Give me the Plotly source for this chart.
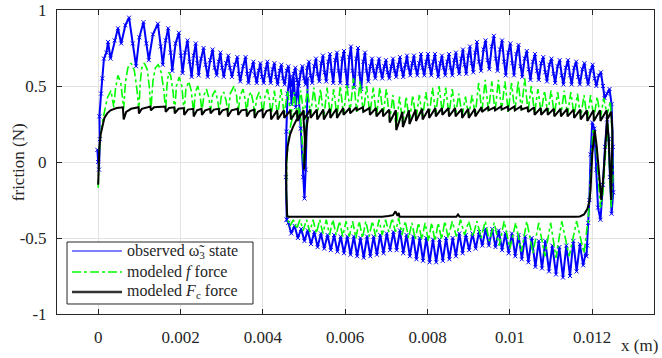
import numpy as np
import plotly.graph_objects as go

# ---------------- data (x in mm, friction in N) ----------------
x_ticks = [0, 0.002, 0.004, 0.006, 0.008, 0.01, 0.012]
x_tick_labels = ["0", "0.002", "0.004", "0.006", "0.008", "0.01", "0.012"]
y_ticks = [-1, -0.5, 0, 0.5, 1]
y_tick_labels = ["-1", "-0.5", "0", "0.5", "1"]
series_names = ["observed ω̃<sub>3</sub> state", "modeled <i>f</i> force", "modeled <i>F</i><sub>c</sub> force"]

# observed state: forward pass (upper branch)
obs_upper = [(0.00, 0.00), (-0.02, 0.08), (0.02, -0.05), (0.04, 0.15), (0.03, 0.30), (0.07, 0.45), (0.10, 0.55),
    (0.14, 0.68), (0.20, 0.72), (0.24, 0.79), (0.30, 0.68), (0.40, 0.80), (0.48, 0.88), (0.56, 0.78), (0.66, 0.90),
    (0.75, 0.95), (0.84, 0.78), (0.92, 0.63), (1.00, 0.82), (1.10, 0.92), (1.17, 0.78), (1.23, 0.67), (1.33, 0.84),
    (1.45, 0.91), (1.52, 0.76), (1.57, 0.64), (1.64, 0.80), (1.70, 0.88), (1.76, 0.72), (1.80, 0.60), (1.88, 0.78),
    (1.96, 0.85), (2.01, 0.70), (2.05, 0.585), (2.11, 0.72), (2.17, 0.80), (2.22, 0.66), (2.27, 0.56), (2.32, 0.70),
    (2.37, 0.78), (2.41, 0.65), (2.44, 0.57), (2.50, 0.68), (2.56, 0.75), (2.61, 0.64), (2.66, 0.56), (2.72, 0.67),
    (2.78, 0.74), (2.83, 0.62), (2.88, 0.57), (2.93, 0.66), (2.97, 0.72), (3.01, 0.62), (3.05, 0.56), (3.11, 0.65),
    (3.16, 0.70), (3.20, 0.62), (3.25, 0.56), (3.32, 0.64), (3.38, 0.69), (3.42, 0.58), (3.45, 0.53), (3.52, 0.63),
    (3.58, 0.69), (3.62, 0.58), (3.65, 0.52), (3.71, 0.60), (3.77, 0.66), (3.81, 0.57), (3.85, 0.52), (3.90, 0.60),
    (3.94, 0.65), (3.98, 0.56), (4.02, 0.52), (4.07, 0.61), (4.11, 0.66), (4.15, 0.57), (4.19, 0.52), (4.24, 0.61),
    (4.28, 0.65), (4.32, 0.56), (4.36, 0.51), (4.41, 0.60), (4.45, 0.64), (4.49, 0.55), (4.53, 0.51), (4.58, 0.60),
    (4.62, 0.63), (4.66, 0.55), (4.70, 0.50), (4.75, 0.58), (4.79, 0.62), (4.83, 0.54), (4.87, 0.50), (4.92, 0.59),
    (4.96, 0.63), (5.00, 0.55), (5.04, 0.51), (5.08, 0.62), (5.12, 0.66), (5.16, 0.57), (5.20, 0.52), (5.25, 0.63),
    (5.29, 0.68), (5.33, 0.58), (5.37, 0.53), (5.42, 0.65), (5.46, 0.70), (5.50, 0.59), (5.54, 0.53), (5.59, 0.66),
    (5.63, 0.71), (5.67, 0.60), (5.71, 0.52), (5.76, 0.67), (5.80, 0.72), (5.84, 0.60), (5.88, 0.52), (5.93, 0.68),
    (5.97, 0.73), (6.01, 0.60), (6.05, 0.50), (6.10, 0.69), (6.14, 0.76), (6.18, 0.60), (6.22, 0.49), (6.27, 0.68),
    (6.31, 0.75), (6.35, 0.58), (6.39, 0.48), (6.44, 0.66), (6.48, 0.72), (6.52, 0.60), (6.56, 0.53), (6.61, 0.63),
    (6.65, 0.68), (6.69, 0.60), (6.73, 0.55), (6.78, 0.63), (6.82, 0.68), (6.86, 0.60), (6.90, 0.55), (6.95, 0.63),
    (6.99, 0.67), (7.03, 0.59), (7.07, 0.55), (7.12, 0.63), (7.16, 0.68), (7.20, 0.60), (7.24, 0.56), (7.29, 0.64),
    (7.33, 0.69), (7.37, 0.61), (7.41, 0.56), (7.46, 0.64), (7.50, 0.70), (7.54, 0.62), (7.58, 0.57), (7.63, 0.65),
    (7.67, 0.70), (7.71, 0.62), (7.75, 0.57), (7.80, 0.65), (7.84, 0.71), (7.88, 0.62), (7.92, 0.57), (7.97, 0.66),
    (8.01, 0.71), (8.05, 0.63), (8.09, 0.57), (8.14, 0.66), (8.18, 0.71), (8.22, 0.62), (8.26, 0.56), (8.31, 0.65),
    (8.35, 0.70), (8.39, 0.62), (8.43, 0.57), (8.48, 0.66), (8.52, 0.71), (8.56, 0.62), (8.60, 0.57), (8.65, 0.67),
    (8.69, 0.72), (8.73, 0.63), (8.77, 0.58), (8.82, 0.68), (8.86, 0.74), (8.90, 0.64), (8.94, 0.58), (8.99, 0.70),
    (9.03, 0.76), (9.07, 0.65), (9.11, 0.59), (9.16, 0.72), (9.20, 0.79), (9.25, 0.66), (9.30, 0.60), (9.36, 0.74),
    (9.41, 0.80), (9.46, 0.67), (9.50, 0.61), (9.56, 0.76), (9.61, 0.83), (9.66, 0.68), (9.70, 0.60), (9.76, 0.74),
    (9.81, 0.80), (9.86, 0.66), (9.90, 0.57), (9.96, 0.72), (10.01, 0.78), (10.06, 0.65), (10.10, 0.57), (10.16, 0.71),
    (10.21, 0.77), (10.26, 0.63), (10.30, 0.56), (10.36, 0.68), (10.41, 0.73), (10.46, 0.61), (10.50, 0.54), (10.56, 0.66),
    (10.61, 0.71), (10.66, 0.60), (10.70, 0.54), (10.76, 0.65), (10.81, 0.69), (10.86, 0.59), (10.90, 0.53), (10.96, 0.64),
    (11.01, 0.68), (11.06, 0.58), (11.10, 0.52), (11.16, 0.63), (11.21, 0.67), (11.26, 0.57), (11.30, 0.51), (11.36, 0.62),
    (11.41, 0.67), (11.46, 0.57), (11.50, 0.51), (11.56, 0.62), (11.61, 0.66), (11.66, 0.56), (11.70, 0.51), (11.76, 0.61),
    (11.81, 0.65), (11.86, 0.56), (11.90, 0.51), (11.96, 0.60), (12.01, 0.64), (12.06, 0.55), (12.10, 0.50), (12.16, 0.57),
    (12.21, 0.59), (12.26, 0.50), (12.30, 0.42), (12.36, 0.45)]

# observed state: reversal loop at the right end
obs_turn = [(12.42, 0.48), (12.47, 0.38), (12.50, 0.10), (12.51, -0.20), (12.47, -0.34), (12.43, -0.10), (12.40, 0.15),
    (12.36, 0.28), (12.31, 0.10), (12.26, -0.15), (12.20, -0.38), (12.14, -0.30), (12.10, -0.05), (12.05, 0.22),
    (12.00, 0.26), (11.96, 0.05), (11.93, -0.25), (11.90, -0.40), (11.88, -0.55), (11.86, -0.62)]

# observed state: backward pass (lower branch)
obs_lower = [(11.84, -0.60), (11.78, -0.68), (11.70, -0.54), (11.62, -0.72), (11.54, -0.52), (11.46, -0.75), (11.37, -0.55),
    (11.29, -0.76), (11.20, -0.56), (11.12, -0.74), (11.03, -0.55), (10.95, -0.72), (10.86, -0.52), (10.78, -0.70),
    (10.70, -0.52), (10.62, -0.69), (10.53, -0.50), (10.45, -0.66), (10.37, -0.49), (10.29, -0.64), (10.21, -0.48),
    (10.13, -0.62), (10.05, -0.47), (9.97, -0.60), (9.89, -0.47), (9.81, -0.58), (9.73, -0.45), (9.65, -0.56),
    (9.57, -0.44), (9.49, -0.55), (9.41, -0.44), (9.33, -0.55), (9.25, -0.46), (9.17, -0.57), (9.09, -0.47),
    (9.01, -0.58), (8.93, -0.48), (8.85, -0.60), (8.77, -0.47), (8.69, -0.62), (8.61, -0.50), (8.53, -0.64),
    (8.45, -0.50), (8.37, -0.65), (8.29, -0.51), (8.21, -0.66), (8.13, -0.51), (8.05, -0.66), (7.97, -0.50),
    (7.89, -0.65), (7.81, -0.50), (7.73, -0.64), (7.65, -0.49), (7.57, -0.62), (7.49, -0.48), (7.41, -0.60),
    (7.33, -0.45), (7.25, -0.58), (7.17, -0.46), (7.09, -0.58), (7.01, -0.47), (6.93, -0.60), (6.85, -0.48),
    (6.77, -0.61), (6.69, -0.49), (6.61, -0.62), (6.53, -0.49), (6.45, -0.63), (6.37, -0.50), (6.29, -0.62),
    (6.21, -0.49), (6.13, -0.61), (6.05, -0.49), (5.97, -0.60), (5.89, -0.49), (5.81, -0.59), (5.73, -0.48),
    (5.65, -0.58), (5.57, -0.48), (5.49, -0.57), (5.41, -0.47), (5.33, -0.56), (5.25, -0.46), (5.17, -0.54),
    (5.09, -0.45), (5.01, -0.52), (4.93, -0.44), (4.85, -0.50), (4.77, -0.42), (4.69, -0.47), (4.62, -0.40),
    (4.58, -0.38)]

# observed state: second reversal (back to upper branch)
obs_rise = [(4.58, -0.38), (4.56, -0.10), (4.57, 0.20), (4.60, 0.45), (4.65, 0.56), (4.70, 0.38), (4.75, 0.55),
    (4.80, 0.36), (4.85, 0.52), (4.92, 0.22), (4.98, -0.10), (5.01, -0.24), (5.04, -0.05), (5.06, 0.30), (5.09, 0.55)]

# modeled f force
f_upper = [(0.00, -0.17), (0.01, -0.05), (0.03, 0.08), (0.06, 0.18), (0.10, 0.26), (0.16, 0.34), (0.22, 0.42),
    (0.31, 0.47), (0.38, 0.36), (0.42, 0.48), (0.48, 0.57), (0.55, 0.52), (0.62, 0.35),
    (0.66, 0.52), (0.72, 0.62), (0.80, 0.65), (0.88, 0.60), (0.94, 0.48), (0.99, 0.34),
    (1.02, 0.52), (1.06, 0.62), (1.12, 0.65), (1.19, 0.61), (1.24, 0.50), (1.28, 0.34),
    (1.33, 0.53), (1.39, 0.62), (1.46, 0.64), (1.53, 0.59), (1.59, 0.48), (1.64, 0.34),
    (1.67, 0.50), (1.71, 0.59), (1.76, 0.57), (1.82, 0.46), (1.86, 0.33),
    (1.90, 0.50), (1.97, 0.56), (2.03, 0.50), (2.09, 0.33), (2.13, 0.48), (2.20, 0.53), (2.26, 0.47), (2.32, 0.32),
    (2.36, 0.46), (2.42, 0.50), (2.48, 0.43), (2.52, 0.33), (2.57, 0.44), (2.63, 0.48), (2.69, 0.42), (2.73, 0.34),
    (2.78, 0.44), (2.84, 0.47), (2.90, 0.41), (2.94, 0.33), (2.99, 0.43), (3.05, 0.46), (3.11, 0.40), (3.15, 0.32),
    (3.21, 0.45), (3.30, 0.50), (3.36, 0.44), (3.40, 0.33), (3.45, 0.44), (3.52, 0.48), (3.57, 0.41), (3.61, 0.32),
    (3.65, 0.43), (3.71, 0.46), (3.76, 0.40), (3.80, 0.31), (3.85, 0.42), (3.91, 0.46), (3.96, 0.40), (4.00, 0.31),
    (4.05, 0.43), (4.11, 0.48), (4.16, 0.41), (4.20, 0.30),
    (4.28, 0.47), (4.36, 0.30), (4.44, 0.48), (4.52, 0.31), (4.60, 0.47), (4.68, 0.30), (4.76, 0.46), (4.84, 0.29),
    (4.92, 0.47), (5.00, 0.30), (5.08, 0.48), (5.16, 0.31), (5.24, 0.49), (5.32, 0.30), (5.40, 0.48), (5.48, 0.29),
    (5.56, 0.49), (5.64, 0.30), (5.72, 0.48), (5.80, 0.30), (5.88, 0.50), (5.96, 0.31), (6.04, 0.51), (6.12, 0.33),
    (6.20, 0.55), (6.28, 0.33), (6.36, 0.53), (6.44, 0.32), (6.52, 0.50), (6.60, 0.31), (6.68, 0.49), (6.76, 0.30),
    (6.84, 0.49), (6.92, 0.31), (7.00, 0.48), (7.08, 0.27), (7.16, 0.44), (7.24, 0.22), (7.32, 0.43), (7.40, 0.24),
    (7.48, 0.43), (7.56, 0.26), (7.64, 0.44), (7.72, 0.28), (7.80, 0.44), (7.88, 0.29), (7.96, 0.46), (8.04, 0.30),
    (8.12, 0.49), (8.20, 0.31), (8.28, 0.50), (8.36, 0.32), (8.44, 0.49), (8.52, 0.31), (8.60, 0.48), (8.68, 0.31),
    (8.76, 0.45), (8.84, 0.30), (8.92, 0.43), (9.00, 0.30), (9.08, 0.44), (9.16, 0.31), (9.24, 0.52), (9.32, 0.33),
    (9.40, 0.54), (9.48, 0.33), (9.56, 0.53), (9.64, 0.33), (9.72, 0.54), (9.80, 0.34), (9.88, 0.53), (9.96, 0.33),
    (10.04, 0.52), (10.12, 0.33), (10.20, 0.53), (10.28, 0.34), (10.36, 0.55), (10.44, 0.33), (10.52, 0.50), (10.60, 0.32),
    (10.68, 0.48), (10.76, 0.32), (10.84, 0.47), (10.92, 0.32), (11.00, 0.47), (11.08, 0.31), (11.16, 0.46), (11.24, 0.31),
    (11.32, 0.47), (11.40, 0.31), (11.48, 0.46), (11.56, 0.30), (11.64, 0.45), (11.72, 0.29), (11.80, 0.44), (11.88, 0.28),
    (11.96, 0.44), (12.04, 0.29), (12.12, 0.43), (12.20, 0.29), (12.28, 0.42), (12.36, 0.31), (12.44, 0.40)]

f_turn = [(12.48, 0.20), (12.50, -0.10), (12.46, -0.30), (12.42, -0.05), (12.38, 0.25), (12.32, 0.05), (12.26, -0.20),
    (12.20, -0.30), (12.14, -0.10), (12.08, 0.15), (12.02, 0.22), (11.97, 0.00), (11.93, -0.25), (11.90, -0.40)]

f_lower = [(11.88, -0.42), (11.80, -0.60), (11.62, -0.39), (11.44, -0.62), (11.26, -0.39), (11.12, -0.63), (10.99, -0.40),
    (10.85, -0.62), (10.70, -0.40), (10.56, -0.60), (10.41, -0.39), (10.28, -0.59), (10.14, -0.40), (10.00, -0.57),
    (9.86, -0.39), (9.74, -0.55), (9.62, -0.40), (9.50, -0.52), (9.40, -0.39), (9.30, -0.50), (9.20, -0.39),
    (9.10, -0.49), (9.00, -0.39), (8.90, -0.48), (8.80, -0.38), (8.70, -0.49), (8.60, -0.39), (8.50, -0.50),
    (8.42, -0.39), (8.34, -0.51), (8.26, -0.40), (8.18, -0.52), (8.10, -0.40), (8.02, -0.52), (7.94, -0.40),
    (7.86, -0.51), (7.78, -0.40), (7.70, -0.51), (7.62, -0.40), (7.54, -0.50), (7.46, -0.39), (7.38, -0.48),
    (7.30, -0.37), (7.22, -0.46), (7.14, -0.37), (7.06, -0.46), (6.98, -0.38), (6.90, -0.48), (6.82, -0.38),
    (6.74, -0.49), (6.66, -0.39), (6.58, -0.49), (6.50, -0.39), (6.42, -0.50), (6.34, -0.39), (6.26, -0.50),
    (6.18, -0.39), (6.10, -0.49), (6.02, -0.39), (5.94, -0.49), (5.86, -0.39), (5.78, -0.48), (5.70, -0.38),
    (5.62, -0.48), (5.54, -0.38), (5.46, -0.47), (5.38, -0.38), (5.30, -0.47), (5.22, -0.38), (5.14, -0.46),
    (5.06, -0.38), (4.98, -0.45), (4.90, -0.38), (4.82, -0.44), (4.74, -0.38), (4.66, -0.42), (4.60, -0.38)]

f_rise = [(4.57, -0.20), (4.58, 0.00), (4.62, 0.15), (4.68, 0.25), (4.75, 0.32), (4.82, 0.30), (4.90, 0.35),
    (4.96, 0.10), (5.00, -0.05), (5.03, 0.10), (5.07, 0.30)]

# modeled Fc force
fc_upper = [(0.00, -0.15), (0.01, -0.02), (0.03, 0.10), (0.06, 0.18), (0.10, 0.24), (0.15, 0.29), (0.22, 0.32),
    (0.30, 0.34), (0.45, 0.355), (0.60, 0.36), (0.62, 0.28), (0.68, 0.33), (0.80, 0.35), (0.98, 0.36), (0.99, 0.32),
    (1.06, 0.35), (1.27, 0.365), (1.28, 0.34), (1.36, 0.36), (1.63, 0.365), (1.64, 0.33), (1.72, 0.355), (1.85, 0.36),
    (1.86, 0.32), (1.95, 0.35), (2.08, 0.355), (2.09, 0.31), (2.18, 0.345), (2.31, 0.35), (2.32, 0.30), (2.40, 0.34),
    (2.51, 0.35), (2.52, 0.31), (2.60, 0.34), (2.72, 0.35), (2.73, 0.32), (2.81, 0.345), (2.93, 0.35), (2.94, 0.31),
    (3.02, 0.34), (3.14, 0.35), (3.15, 0.30), (3.24, 0.34), (3.39, 0.35), (3.40, 0.31), (3.48, 0.34), (3.60, 0.345),
    (3.61, 0.30), (3.69, 0.335), (3.79, 0.345), (3.80, 0.29), (3.88, 0.33), (3.99, 0.345), (4.00, 0.29), (4.09, 0.335),
    (4.19, 0.345), (4.20, 0.28), (4.35, 0.34), (4.36, 0.28), (4.51, 0.34), (4.52, 0.29), (4.67, 0.34), (4.68, 0.28),
    (4.83, 0.34), (4.84, 0.27), (4.99, 0.34), (5.00, 0.28), (5.15, 0.345), (5.16, 0.29), (5.31, 0.345), (5.32, 0.28),
    (5.47, 0.345), (5.48, 0.28), (5.63, 0.35), (5.64, 0.29), (5.79, 0.35), (5.80, 0.29), (5.95, 0.355), (5.96, 0.31),
    (6.11, 0.355), (6.12, 0.32), (6.27, 0.36), (6.28, 0.34), (6.43, 0.36), (6.44, 0.33), (6.59, 0.355), (6.60, 0.31),
    (6.75, 0.355), (6.76, 0.30), (6.91, 0.35), (6.92, 0.30), (7.07, 0.345), (7.08, 0.26), (7.23, 0.34), (7.24, 0.21),
    (7.39, 0.33), (7.40, 0.23), (7.55, 0.34), (7.56, 0.25), (7.71, 0.345), (7.72, 0.27), (7.87, 0.35), (7.88, 0.28),
    (8.03, 0.35), (8.04, 0.29), (8.19, 0.355), (8.20, 0.30), (8.35, 0.355), (8.36, 0.31), (8.51, 0.355), (8.52, 0.30),
    (8.67, 0.355), (8.68, 0.30), (8.83, 0.35), (8.84, 0.29), (8.99, 0.35), (9.00, 0.29), (9.15, 0.35), (9.16, 0.30),
    (9.31, 0.36), (9.32, 0.33), (9.47, 0.36), (9.48, 0.34), (9.63, 0.36), (9.64, 0.34), (9.79, 0.365), (9.80, 0.345),
    (9.95, 0.365), (9.96, 0.34), (10.11, 0.365), (10.12, 0.34), (10.27, 0.365), (10.28, 0.345), (10.43, 0.36),
    (10.44, 0.33), (10.59, 0.36), (10.60, 0.31), (10.75, 0.355), (10.76, 0.31), (10.91, 0.355), (10.92, 0.31),
    (11.07, 0.35), (11.08, 0.30), (11.23, 0.35), (11.24, 0.30), (11.39, 0.35), (11.40, 0.30), (11.55, 0.345),
    (11.56, 0.29), (11.71, 0.345), (11.72, 0.28), (11.87, 0.34), (11.88, 0.27), (12.03, 0.34), (12.04, 0.27),
    (12.19, 0.34), (12.20, 0.27), (12.35, 0.34), (12.36, 0.28), (12.46, 0.33)]

fc_turn = [(12.49, 0.20), (12.48, -0.05), (12.46, -0.25), (12.43, -0.05), (12.40, 0.15), (12.36, 0.28), (12.32, 0.10),
    (12.27, -0.10), (12.22, -0.25), (12.16, -0.05), (12.11, 0.10), (12.06, 0.21), (12.00, 0.05), (11.96, -0.18),
    (11.93, -0.26), (11.88, -0.31), (11.80, -0.345), (11.70, -0.358), (11.60, -0.36)]

fc_lower = [(8.78, -0.36), (8.74, -0.345), (8.70, -0.36), (7.32, -0.36), (7.30, -0.335), (7.27, -0.355),
    (7.22, -0.325), (7.16, -0.35), (7.05, -0.355), (6.90, -0.36), (4.62, -0.36), (4.59, -0.355)]

fc_rise = [(4.57, -0.20), (4.57, 0.00), (4.60, 0.10), (4.66, 0.18), (4.73, 0.23), (4.82, 0.28), (4.90, 0.31),
    (4.98, 0.32), (5.02, 0.15), (5.00, -0.05), (5.03, 0.08), (5.06, 0.22), (5.10, 0.30)]


def path(*segments):
    pts = [p for seg in segments for p in seg]
    xs = np.array([p[0] for p in pts]) / 1000.0  # mm -> m
    ys = np.array([p[1] for p in pts])
    return xs, ys


obs_x, obs_y = path(obs_upper, obs_turn, obs_lower, obs_rise)
f_x, f_y = path(f_upper, f_turn, f_lower, f_rise)
fc_x, fc_y = path(fc_upper, fc_turn, fc_lower, fc_rise)

FONT = "Liberation Serif, Times New Roman, Times, serif"
AX = "#262626"
BLUE, GREEN, BLACK = "#0000ff", "#00ff00", "#000000"

fig = go.Figure()
fig.add_trace(go.Scatter(x=obs_x, y=obs_y, mode="lines+markers", name=series_names[0], showlegend=False,
                         line=dict(color=BLUE, width=2),
                         marker=dict(symbol="x-thin", size=4, color=BLUE, line=dict(width=1, color=BLUE))))
fig.add_trace(go.Scatter(x=f_x, y=f_y, mode="lines", name=series_names[1], showlegend=False,
                         line=dict(color=GREEN, width=1.6, dash="dashdot")))
fig.add_trace(go.Scatter(x=fc_x, y=fc_y, mode="lines", name=series_names[2], showlegend=False,
                         line=dict(color=BLACK, width=2)))

# legend box drawn in paper coordinates (compact rows like the original)
legend_rows_y = [0.2072, 0.1382, 0.0724]
legend_styles = [(BLUE, 1, "solid"), (GREEN, 1.6, "dashdot"), ("#333333", 2.5, "solid")]
shapes = [dict(type="rect", xref="paper", yref="paper", x0=0.0168, x1=0.3283, y0=0.0329, y1=0.2368,
               line=dict(color=AX, width=1), fillcolor="white", layer="above")]
annotations = []
for yrow, (col, w, dash), name in zip(legend_rows_y, legend_styles, series_names):
    shapes.append(dict(type="line", xref="paper", yref="paper", x0=0.0251, x1=0.1089, y0=yrow, y1=yrow,
                       line=dict(color=col, width=w, dash=dash), layer="above"))
    annotations.append(dict(text=name, xref="paper", yref="paper", x=0.1139, y=yrow, xanchor="left",
                            yanchor="middle", showarrow=False, font=dict(family=FONT, size=16, color=AX)))

annotations += [
    dict(text="friction (N)", xref="paper", yref="paper", x=-0.065, y=0.5,
         xanchor="center", yanchor="middle", textangle=-90, showarrow=False,
         font=dict(family=FONT, size=17, color=AX)),
    dict(text="x (m)", xref="paper", yref="paper", x=1.01, y=-0.105,
         xanchor="right", yanchor="middle", showarrow=False,
         font=dict(family=FONT, size=17, color=AX)),
]

fig.update_layout(
    width=662, height=358,
    margin=dict(l=57, r=8, t=10, b=44, autoexpand=False),
    paper_bgcolor="white", plot_bgcolor="white",
    font=dict(family=FONT, size=17, color=AX),
    showlegend=False,
    xaxis=dict(range=[-0.001, 0.0135], tickvals=x_ticks, ticktext=x_tick_labels, automargin=False,
               showgrid=True, gridcolor="#e3e3e3", gridwidth=1, zeroline=False,
               showline=True, linecolor=AX, linewidth=1, mirror="ticks",
               ticks="inside", ticklen=5, tickcolor=AX, ticklabelstandoff=8,
               tickfont=dict(family=FONT, size=17, color=AX)),
    yaxis=dict(range=[-1, 1], tickvals=y_ticks, ticktext=y_tick_labels, automargin=False,
               showgrid=True, gridcolor="#e3e3e3", gridwidth=1, zeroline=False,
               showline=True, linecolor=AX, linewidth=1, mirror="ticks",
               ticks="inside", ticklen=5, tickcolor=AX, ticklabelstandoff=6,
               tickfont=dict(family=FONT, size=17, color=AX)),
    shapes=shapes,
    annotations=annotations,
)

fig.write_html("out.html", config={"displayModeBar": False},
               post_script="document.body.style.margin='0';document.body.style.padding='0';")
